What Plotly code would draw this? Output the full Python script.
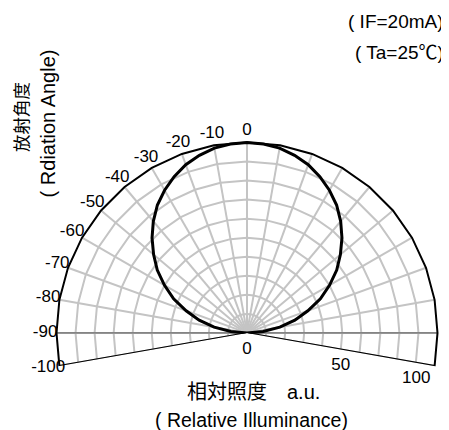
import plotly.graph_objects as go

# ---- data ----
curve_angle = [-90, -85, -80, -75, -70, -65, -60, -55, -50, -45, -40, -35, -30, -25, -20, -15, -10, -5, 0,
               5, 10, 15, 20, 25, 30, 35, 40, 45, 50, 55, 60, 65, 70, 75, 80, 85, 90]
curve_intensity = [0, 8.5, 17.5, 26, 34, 42.5, 50, 57.5, 64, 70.5, 76.5, 82, 86.5, 90.5, 94, 96.5, 98.5, 99.5, 100,
                   99.5, 98.5, 96.5, 94, 90.5, 86.5, 82, 76.5, 70.5, 64, 57.5, 50, 42.5, 34, 26, 17.5, 8.5, 0]

angle_ticks = [-100, -90, -80, -70, -60, -50, -40, -30, -20, -10, 0, 10, 20, 30, 40, 50, 60, 70, 80, 90, 100]
labeled_angles = [-100, -90, -80, -70, -60, -50, -40, -30, -20, -10, 0]
angle_labels = ["-100", "-90", "-80", "-70", "-60", "-50", "-40", "-30", "-20", "-10", "0"]
ring_values = [10, 20, 30, 40, 50, 60, 70, 80, 90]
radial_max = 100
radial_ticks = [0, 50, 100]
radial_labels = ["0", "50", "100"]

GRAY = "#c4c4c4"
FONT = "Liberation Sans, Arial, Noto Sans CJK JP"
LABEL_RING = 106          # radius (data units) where the angle labels sit; also the axis limit
RADIAL_LABEL_ANGLE = 100

fig = go.Figure()

# grid rings (polygonal)
for rv in ring_values:
    fig.add_trace(go.Scatterpolar(r=[rv] * len(angle_ticks), theta=angle_ticks, mode="lines",
                                  line=dict(color=GRAY, width=2), hoverinfo="skip", showlegend=False))
# spokes
for a in angle_ticks:
    fig.add_trace(go.Scatterpolar(r=[0, radial_max], theta=[a, a], mode="lines",
                                  line=dict(color=GRAY, width=2), hoverinfo="skip", showlegend=False))
# darker horizontal baseline
fig.add_trace(go.Scatterpolar(r=[radial_max, 0, radial_max], theta=[-90, -90, 90], mode="lines",
                              line=dict(color="#555555", width=1), hoverinfo="skip", showlegend=False))
# outer boundary
fig.add_trace(go.Scatterpolar(r=[0] + [radial_max] * len(angle_ticks) + [0],
                              theta=[angle_ticks[0]] + angle_ticks + [angle_ticks[-1]],
                              mode="lines", line=dict(color="black", width=2),
                              hoverinfo="skip", showlegend=False))
# data curve
fig.add_trace(go.Scatterpolar(r=curve_intensity, theta=curve_angle, mode="lines",
                              line=dict(color="black", width=3), showlegend=False))

# angular tick labels
fig.add_trace(go.Scatterpolar(r=[LABEL_RING] * len(labeled_angles), theta=labeled_angles,
                              mode="text", text=angle_labels, textposition="middle center",
                              textfont=dict(family=FONT, size=17, color="black"),
                              cliponaxis=False, hoverinfo="skip", showlegend=False))
# radial tick labels
fig.add_trace(go.Scatterpolar(r=radial_ticks, theta=[RADIAL_LABEL_ANGLE] * len(radial_ticks),
                              mode="markers+text", text=radial_labels,
                              marker=dict(size=[11, 11, 5], opacity=0),
                              textposition=["bottom center", "bottom center", "bottom left"],
                              textfont=dict(family=FONT, size=17, color="black"),
                              cliponaxis=False, hoverinfo="skip", showlegend=False))

fig.update_layout(
    width=441, height=422,
    margin=dict(l=37, r=0, t=123, b=62),
    paper_bgcolor="white", plot_bgcolor="white",
    font=dict(family=FONT, color="black", size=16),
    polar=dict(
        bgcolor="white",
        sector=[-10, 190],
        angularaxis=dict(rotation=90, direction="clockwise", showgrid=False, showline=False,
                         ticks="", showticklabels=False),
        radialaxis=dict(range=[0, LABEL_RING], showgrid=False, showline=False, ticks="",
                        showticklabels=False, angle=-10),
    ),
    annotations=[
        dict(text="放射角度", textangle=-90, xref="paper", yref="paper",
             x=-0.057, y=1.059, xanchor="center", yanchor="middle", showarrow=False,
             font=dict(family=FONT, size=17.5, color="black")),
        dict(text="( Rdiation Angle)", textangle=-90, xref="paper", yref="paper",
             x=0.0074, y=1.032, xanchor="center", yanchor="middle", showarrow=False,
             font=dict(family=FONT, size=20, color="black")),
        dict(text="( IF=20mA)", xref="paper", yref="paper",
             x=0.9926, y=1.46, xanchor="right", yanchor="middle", showarrow=False,
             font=dict(family=FONT, size=19, color="black")),
        dict(text="( Ta=25℃)", xref="paper", yref="paper",
             x=0.9926, y=1.333, xanchor="right", yanchor="middle", showarrow=False,
             font=dict(family=FONT, size=19, color="black")),
        dict(text="相対照度　a.u.", xref="paper", yref="paper", x=0.515, y=-0.101,
             xanchor="center", yanchor="middle", showarrow=False,
             font=dict(family=FONT, size=20, color="black")),
        dict(text="( Relative Illuminance)", xref="paper", yref="paper", x=0.51, y=-0.219,
             xanchor="center", yanchor="middle", showarrow=False,
             font=dict(family=FONT, size=19.5, color="black")),
    ],
)

fig.write_html("out.html")
